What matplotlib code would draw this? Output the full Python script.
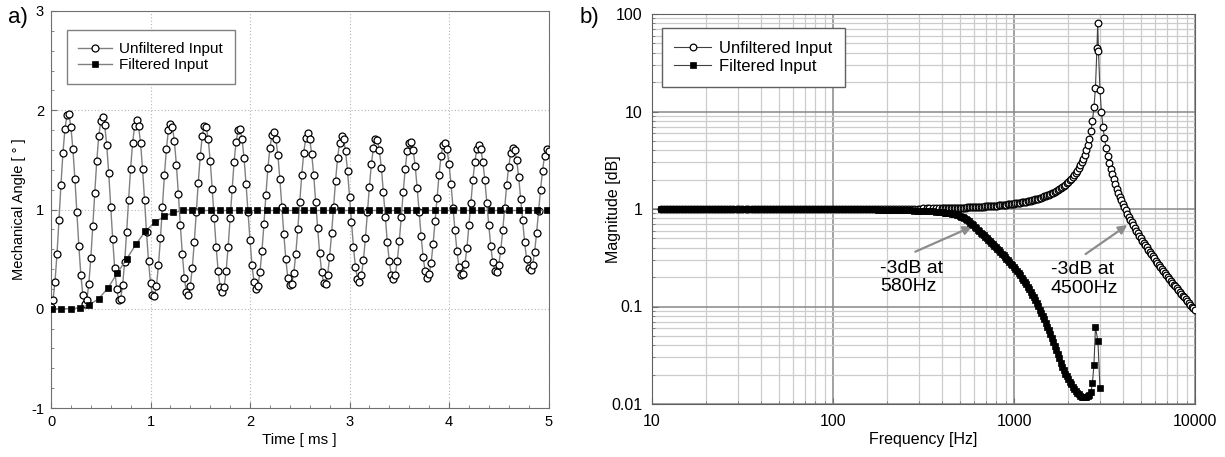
import matplotlib
matplotlib.use("Agg")
import matplotlib.pyplot as plt
from matplotlib.ticker import MultipleLocator, LogLocator, NullFormatter

plt.rcParams["font.family"] = ["Liberation Sans", "DejaVu Sans"]
plt.rcParams["axes.unicode_minus"] = False

# ---- panel a) step response, sampled every 0.02 ms ----
time_unfiltered = [
    0.00, 0.02, 0.04, 0.06, 0.08, 0.10, 0.12, 0.14, 0.16, 0.18,
    0.20, 0.22, 0.24, 0.26, 0.28, 0.30, 0.32, 0.34, 0.36, 0.38,
    0.40, 0.42, 0.44, 0.46, 0.48, 0.50, 0.52, 0.54, 0.56, 0.58,
    0.60, 0.62, 0.64, 0.66, 0.68, 0.70, 0.72, 0.74, 0.76, 0.78,
    0.80, 0.82, 0.84, 0.86, 0.88, 0.90, 0.92, 0.94, 0.96, 0.98,
    1.00, 1.02, 1.04, 1.06, 1.08, 1.10, 1.12, 1.14, 1.16, 1.18,
    1.20, 1.22, 1.24, 1.26, 1.28, 1.30, 1.32, 1.34, 1.36, 1.38,
    1.40, 1.42, 1.44, 1.46, 1.48, 1.50, 1.52, 1.54, 1.56, 1.58,
    1.60, 1.62, 1.64, 1.66, 1.68, 1.70, 1.72, 1.74, 1.76, 1.78,
    1.80, 1.82, 1.84, 1.86, 1.88, 1.90, 1.92, 1.94, 1.96, 1.98,
    2.00, 2.02, 2.04, 2.06, 2.08, 2.10, 2.12, 2.14, 2.16, 2.18,
    2.20, 2.22, 2.24, 2.26, 2.28, 2.30, 2.32, 2.34, 2.36, 2.38,
    2.40, 2.42, 2.44, 2.46, 2.48, 2.50, 2.52, 2.54, 2.56, 2.58,
    2.60, 2.62, 2.64, 2.66, 2.68, 2.70, 2.72, 2.74, 2.76, 2.78,
    2.80, 2.82, 2.84, 2.86, 2.88, 2.90, 2.92, 2.94, 2.96, 2.98,
    3.00, 3.02, 3.04, 3.06, 3.08, 3.10, 3.12, 3.14, 3.16, 3.18,
    3.20, 3.22, 3.24, 3.26, 3.28, 3.30, 3.32, 3.34, 3.36, 3.38,
    3.40, 3.42, 3.44, 3.46, 3.48, 3.50, 3.52, 3.54, 3.56, 3.58,
    3.60, 3.62, 3.64, 3.66, 3.68, 3.70, 3.72, 3.74, 3.76, 3.78,
    3.80, 3.82, 3.84, 3.86, 3.88, 3.90, 3.92, 3.94, 3.96, 3.98,
    4.00, 4.02, 4.04, 4.06, 4.08, 4.10, 4.12, 4.14, 4.16, 4.18,
    4.20, 4.22, 4.24, 4.26, 4.28, 4.30, 4.32, 4.34, 4.36, 4.38,
    4.40, 4.42, 4.44, 4.46, 4.48, 4.50, 4.52, 4.54, 4.56, 4.58,
    4.60, 4.62, 4.64, 4.66, 4.68, 4.70, 4.72, 4.74, 4.76, 4.78,
    4.80, 4.82, 4.84, 4.86, 4.88, 4.90, 4.92, 4.94, 4.96, 4.98,
    5.00,
]
angle_unfiltered = [
    0.02, 0.09, 0.27, 0.55, 0.89, 1.25, 1.57, 1.81, 1.95, 1.96,
    1.83, 1.61, 1.31, 0.97, 0.63, 0.34, 0.14, 0.05, 0.09, 0.25,
    0.51, 0.83, 1.17, 1.49, 1.74, 1.89, 1.93, 1.85, 1.65, 1.37,
    1.03, 0.70, 0.41, 0.20, 0.09, 0.10, 0.24, 0.47, 0.77, 1.10,
    1.41, 1.67, 1.84, 1.90, 1.84, 1.67, 1.41, 1.10, 0.77, 0.48,
    0.26, 0.14, 0.13, 0.23, 0.44, 0.71, 1.03, 1.35, 1.61, 1.80,
    1.86, 1.83, 1.69, 1.45, 1.16, 0.84, 0.55, 0.31, 0.17, 0.14,
    0.23, 0.41, 0.67, 0.97, 1.27, 1.54, 1.74, 1.84, 1.83, 1.71,
    1.49, 1.21, 0.91, 0.62, 0.38, 0.22, 0.17, 0.22, 0.38, 0.62,
    0.91, 1.21, 1.48, 1.68, 1.80, 1.81, 1.71, 1.52, 1.26, 0.97,
    0.69, 0.44, 0.27, 0.20, 0.23, 0.37, 0.58, 0.85, 1.15, 1.42,
    1.62, 1.75, 1.78, 1.71, 1.55, 1.31, 1.03, 0.75, 0.50, 0.31,
    0.24, 0.25, 0.36, 0.55, 0.80, 1.08, 1.35, 1.57, 1.72, 1.77,
    1.71, 1.56, 1.35, 1.08, 0.81, 0.56, 0.37, 0.26, 0.25, 0.34,
    0.52, 0.76, 1.03, 1.29, 1.52, 1.67, 1.74, 1.71, 1.59, 1.39,
    1.13, 0.87, 0.62, 0.42, 0.30, 0.27, 0.34, 0.49, 0.71, 0.97,
    1.23, 1.46, 1.62, 1.71, 1.70, 1.60, 1.42, 1.18, 0.92, 0.67,
    0.48, 0.34, 0.30, 0.34, 0.48, 0.68, 0.92, 1.18, 1.41, 1.59,
    1.67, 1.68, 1.60, 1.44, 1.22, 0.97, 0.73, 0.52, 0.38, 0.31,
    0.35, 0.46, 0.65, 0.88, 1.12, 1.35, 1.54, 1.65, 1.67, 1.61,
    1.46, 1.26, 1.02, 0.79, 0.58, 0.42, 0.34, 0.35, 0.45, 0.61,
    0.84, 1.07, 1.30, 1.48, 1.61, 1.65, 1.61, 1.48, 1.30, 1.07,
    0.84, 0.63, 0.47, 0.38, 0.37, 0.44, 0.59, 0.79, 1.02, 1.25,
    1.43, 1.57, 1.62, 1.60, 1.50, 1.33, 1.11, 0.89, 0.67, 0.50,
    0.41, 0.39, 0.44, 0.57, 0.76, 0.98, 1.20, 1.39, 1.54, 1.61,
    1.59,
]
time_filtered = [
    0.010, 0.104, 0.198, 0.291, 0.385, 0.479, 0.573, 0.667, 0.760, 0.854,
    0.948, 1.042, 1.136, 1.229, 1.323, 1.417, 1.511, 1.605, 1.698, 1.792,
    1.886, 1.980, 2.074, 2.167, 2.261, 2.355, 2.449, 2.543, 2.636, 2.730,
    2.824, 2.918, 3.012, 3.105, 3.199, 3.293, 3.387, 3.481, 3.574, 3.668,
    3.762, 3.856, 3.950, 4.043, 4.137, 4.231, 4.325, 4.419, 4.512, 4.606,
    4.700, 4.794, 4.888, 4.981,
]
angle_filtered = [
    0.00, 0.00, 0.00, 0.01, 0.04, 0.10, 0.21, 0.36, 0.50, 0.65,
    0.78, 0.87, 0.93, 0.97, 0.99, 1.00, 0.99, 0.99, 0.99, 0.99,
    0.99, 0.99, 0.99, 0.99, 0.99, 0.99, 0.99, 0.99, 0.99, 0.99,
    0.99, 0.99, 0.99, 0.99, 0.99, 0.99, 0.99, 0.99, 0.99, 0.99,
    0.99, 0.99, 0.99, 0.99, 0.99, 0.99, 0.99, 0.99, 0.99, 0.99,
    0.99, 0.99, 0.99, 0.99,
]

# ---- panel b) frequency response ----
freq_hz = [
    # 10 - 100 Hz
    11.2, 11.7, 12.1, 12.6, 13.1, 13.6, 14.1, 14.7, 15.3, 15.8,
    16.5, 17.1, 17.8, 18.5, 19.2, 20.0, 20.7, 21.5, 22.4, 23.3,
    24.2, 25.1, 26.1, 27.1, 28.2, 29.3, 30.4, 31.6, 32.9, 34.1,
    35.5, 36.9, 38.3, 39.8, 41.4, 43.0, 44.7, 46.4, 48.2, 50.1,
    52.1, 54.1, 56.2, 58.4, 60.7, 63.1, 65.6, 68.1, 70.8, 73.6,
    76.4, 79.4, 82.5, 85.8, 89.1, 92.6, 96.2,
    # 100 - 400 Hz
    100, 104, 108, 112, 117, 121, 126, 131, 136, 141,
    147, 153, 158, 165, 171, 178, 185, 192, 200, 207,
    215, 224, 233, 242, 251, 261, 271, 282, 293, 304,
    316, 329, 341, 355, 369, 383,
    # 400 - 1000 Hz
    398, 406, 414, 422, 430, 438, 447, 456, 464, 473,
    482, 492, 501, 511, 521, 531, 541, 552, 562, 573,
    584, 595, 607, 619, 631, 643, 656, 668, 681, 694,
    708, 722, 736, 750, 764, 779, 794, 809, 825, 841,
    858, 875, 891, 908, 926, 944, 962, 981,
    # 1000 - 2000 Hz
    1000, 1019, 1039, 1059, 1080, 1101, 1122, 1144, 1166, 1189,
    1212, 1235, 1259, 1283, 1308, 1334, 1359, 1385, 1413, 1440,
    1468, 1496, 1526, 1556, 1585, 1616, 1647, 1679, 1711, 1744,
    1778, 1813, 1848, 1884, 1920, 1957,
    # 2000 - 10000 Hz
    1995, 2034, 2073, 2113, 2154, 2196, 2239, 2282, 2326, 2371,
    2417, 2464, 2512, 2560, 2610, 2661, 2712, 2765, 2818, 2873,
    2900, 2929, 2985, 3043, 3102, 3162, 3223, 3286, 3350, 3415,
    3481, 3548, 3617, 3687, 3758, 3831, 3905, 3981, 4058, 4137,
    4217, 4299, 4382, 4467, 4553, 4642, 4732, 4823, 4917, 5012,
    5109, 5208, 5309, 5412, 5517, 5623, 5732, 5843, 5956, 6072,
    6190, 6310, 6432, 6557, 6684, 6813, 6945, 7080, 7217, 7356,
    7499, 7644, 7792, 7943, 8097, 8254, 8414, 8577, 8743, 8913,
    9085, 9261, 9441, 9624, 9810, 10000,
]
mag_unfiltered = [
    1.000, 1.000, 1.000, 1.000, 1.000, 1.000, 1.000, 1.000, 1.000, 1.000,
    1.000, 1.000, 1.000, 1.000, 1.000, 1.000, 1.000, 1.000, 1.000, 1.000,
    1.000, 1.000, 1.000, 1.000, 1.000, 1.000, 1.000, 1.000, 1.000, 1.000,
    1.000, 1.000, 1.000, 1.000, 1.000, 1.000, 1.000, 1.000, 1.000, 1.000,
    1.000, 1.000, 1.000, 1.000, 1.000, 1.000, 1.000, 1.000, 1.000, 1.000,
    1.000, 1.000, 1.000, 1.000, 1.000, 1.000, 1.000,
    1.001, 1.001, 1.001, 1.001, 1.002, 1.002, 1.002, 1.002, 1.002, 1.002,
    1.003, 1.003, 1.003, 1.003, 1.003, 1.004, 1.004, 1.004, 1.005, 1.005,
    1.006, 1.006, 1.006, 1.007, 1.008, 1.008, 1.009, 1.009, 1.010, 1.011,
    1.012, 1.013, 1.014, 1.015, 1.016, 1.018,
    1.019, 1.020, 1.021, 1.022, 1.022, 1.023, 1.024, 1.025, 1.026, 1.027,
    1.028, 1.030, 1.031, 1.032, 1.033, 1.035, 1.036, 1.038, 1.039, 1.041,
    1.042, 1.044, 1.046, 1.048, 1.050, 1.052, 1.054, 1.056, 1.058, 1.061,
    1.063, 1.066, 1.069, 1.072, 1.075, 1.078, 1.081, 1.084, 1.088, 1.092,
    1.096, 1.100, 1.104, 1.109, 1.114, 1.119, 1.124, 1.129,
    1.135, 1.141, 1.147, 1.154, 1.161, 1.168, 1.176, 1.184, 1.193, 1.202,
    1.212, 1.222, 1.232, 1.243, 1.255, 1.268, 1.281, 1.296, 1.311, 1.327,
    1.345, 1.363, 1.383, 1.404, 1.426, 1.450, 1.476, 1.504, 1.534, 1.567,
    1.602, 1.642, 1.684, 1.730, 1.780, 1.836,
    1.899, 1.968, 2.045, 2.132, 2.231, 2.344, 2.476, 2.626, 2.804, 3.016,
    3.275, 3.596, 4.005, 4.530, 5.263, 6.328, 7.971, 11.00, 17.52, 44.87,
    80.00, 42.13, 16.43, 9.810, 6.910, 5.296, 4.252, 3.522, 2.990, 2.586,
    2.268, 2.013, 1.800, 1.622, 1.472, 1.342, 1.230, 1.131, 1.044, 0.966,
    0.897, 0.835, 0.779, 0.7285, 0.683, 0.640, 0.6015, 0.566, 0.533, 0.503,
    0.475, 0.449, 0.425, 0.403, 0.382, 0.362, 0.344, 0.327, 0.311, 0.2955,
    0.281, 0.268, 0.255, 0.243, 0.232, 0.221, 0.211, 0.2016, 0.193, 0.184,
    0.176, 0.168, 0.161, 0.154, 0.147, 0.141, 0.135, 0.129, 0.124, 0.118,
    0.1135, 0.109, 0.104, 0.0999, 0.0958, 0.0918,
]
# filtered curve shares the first frequencies of freq_hz, then has its own tail
mag_filtered = [
    1.000, 1.000, 1.000, 1.000, 1.000, 1.000, 1.000, 1.000, 1.000, 1.000,
    1.000, 1.000, 1.000, 1.000, 1.000, 1.000, 1.000, 1.000, 1.000, 1.000,
    1.000, 1.000, 1.000, 1.000, 1.000, 1.000, 1.000, 1.000, 1.000, 1.000,
    1.000, 1.000, 1.000, 1.000, 1.000, 1.000, 1.000, 1.000, 1.000, 1.000,
    1.000, 1.000, 1.000, 1.000, 1.000, 1.000, 1.000, 1.000, 1.000, 1.000,
    1.000, 1.000, 1.000, 1.000, 1.000, 1.000, 1.000,
    0.997, 0.996, 0.996, 0.996, 0.995, 0.995, 0.994, 0.994, 0.993, 0.993,
    0.992, 0.991, 0.991, 0.990, 0.989, 0.988, 0.988, 0.987, 0.986, 0.984,
    0.982, 0.980, 0.978, 0.976, 0.974, 0.971, 0.968, 0.965, 0.962, 0.958,
    0.955, 0.951, 0.947, 0.943, 0.938, 0.933,
    0.927, 0.924, 0.920, 0.916, 0.912, 0.907, 0.902, 0.895, 0.888, 0.879,
    0.870, 0.859, 0.848, 0.834, 0.820, 0.803, 0.786, 0.767, 0.748, 0.727,
    0.706, 0.683, 0.660, 0.637, 0.614, 0.593, 0.573, 0.554, 0.536, 0.518,
    0.500, 0.484, 0.468, 0.453, 0.438, 0.422, 0.407, 0.392, 0.377, 0.362,
    0.348, 0.335, 0.322, 0.309, 0.297, 0.286, 0.275, 0.264,
    0.254, 0.242, 0.230, 0.219, 0.208, 0.1975, 0.1875, 0.1776, 0.1683, 0.1589,
    0.1500, 0.1409, 0.1324, 0.1239, 0.1159, 0.1079, 0.1005, 0.0931, 0.0863, 0.0797,
    0.0736, 0.0677, 0.0622, 0.0570, 0.0522, 0.0475, 0.0432, 0.0393, 0.0357, 0.0325,
    0.0295, 0.0266, 0.0240, 0.0222, 0.0205, 0.0192,
    0.0180, 0.0170, 0.0160, 0.0151, 0.0143, 0.0136, 0.0131, 0.0126, 0.0122, 0.0119,
    0.0117, 0.0117, 0.0118, 0.0121, 0.0125, 0.0132,
]
freq_filtered_tail = [2712, 2765, 2818, 2908, 2985]
mag_filtered_tail = [0.0165, 0.0251, 0.061, 0.0445, 0.0147]

freq_filtered = freq_hz[:len(mag_filtered)] + freq_filtered_tail
mag_filtered_all = mag_filtered + mag_filtered_tail

fig = plt.figure(figsize=(12.25, 4.57), dpi=100)
ax1 = fig.add_axes([51 / 1225, 49 / 457, 497.5 / 1225, 397 / 457])
ax2 = fig.add_axes([652 / 1225, 53 / 457, 543 / 1225, 390 / 457])

spine_col = "#707070"
line_grey = "#808080"

# ---------------- panel a ----------------
ax1.plot(time_unfiltered, angle_unfiltered, color=line_grey, lw=1.0,
         marker="o", ms=5.0, mfc="white", mec="black", mew=0.9,
         label="Unfiltered Input", zorder=3)
ax1.plot(time_filtered, angle_filtered, color=line_grey, lw=1.0,
         marker="s", ms=4.6, mfc="black", mec="black", mew=0.5,
         label="Filtered Input", zorder=4)
ax1.set_xlim(0, 5)
ax1.set_ylim(-1, 3)
ax1.xaxis.set_major_locator(MultipleLocator(1))
ax1.xaxis.set_minor_locator(MultipleLocator(0.2))
ax1.yaxis.set_major_locator(MultipleLocator(1))
ax1.yaxis.set_minor_locator(MultipleLocator(0.2))
ax1.grid(which="major", linestyle=(0, (1, 2)), color="#b5b5b5", lw=0.8)
ax1.set_axisbelow(True)
ax1.tick_params(which="both", direction="in", colors=spine_col,
                labelcolor="black", labelsize=10.5)
ax1.tick_params(which="major", length=4, pad=5)
ax1.tick_params(which="minor", length=2.5)
for s in ax1.spines.values():
    s.set_color(spine_col)
ax1.set_xlabel("Time [ ms ]", fontsize=11)
ax1.set_ylabel("Mechanical Angle [ \u00b0 ]", fontsize=10.5)
ax1.xaxis.set_label_coords(0.5, -0.063)
ax1.yaxis.set_label_coords(-0.05, 0.5)
leg1 = ax1.legend(loc="upper left", bbox_to_anchor=(0.0316, 0.951),
                  borderaxespad=0, fontsize=11, frameon=True,
                  fancybox=False, edgecolor="#808080", framealpha=1,
                  handlelength=2.2, handletextpad=0.5, labelspacing=0.15,
                  borderpad=0.75)
leg1.get_frame().set_linewidth(1.0)

# ---------------- panel b ----------------
ax2.plot(freq_hz, mag_unfiltered, color="#404040", lw=0.8,
         marker="o", ms=4.8, mfc="white", mec="black", mew=0.9,
         label="Unfiltered Input", zorder=3)
ax2.plot(freq_filtered, mag_filtered_all, color="#404040", lw=0.8,
         marker="s", ms=5.0, mfc="black", mec="black", mew=0.5,
         label="Filtered Input", zorder=4)
ax2.set_xscale("log")
ax2.set_yscale("log")
ax2.set_xlim(10, 10000)
ax2.set_ylim(0.01, 100)
ax2.set_xticks([10, 100, 1000, 10000])
ax2.set_xticklabels(["10", "100", "1000", "10000"])
ax2.set_yticks([0.01, 0.1, 1, 10, 100])
ax2.set_yticklabels(["0.01", "0.1", "1", "10", "100"])
ax2.xaxis.set_minor_locator(LogLocator(base=10, subs=range(2, 10)))
ax2.yaxis.set_minor_locator(LogLocator(base=10, subs=range(2, 10)))
ax2.xaxis.set_minor_formatter(NullFormatter())
ax2.yaxis.set_minor_formatter(NullFormatter())
ax2.grid(which="major", color="#888888", lw=1.1)
ax2.grid(which="minor", color="#cccccc", lw=0.9)
ax2.set_axisbelow(True)
ax2.tick_params(which="both", direction="in", colors=spine_col,
                labelcolor="black", labelsize=11.5)
ax2.tick_params(which="major", length=4, pad=7)
ax2.tick_params(which="minor", length=2.5)
for s in ax2.spines.values():
    s.set_color("#606060")
ax2.set_xlabel("Frequency [Hz]", fontsize=11.5)
ax2.set_ylabel("Magnitude [dB]", fontsize=11.5)
ax2.xaxis.set_label_coords(0.5, -0.072)
ax2.yaxis.set_label_coords(-0.057, 0.5)
leg2 = ax2.legend(loc="upper left", bbox_to_anchor=(0.018, 0.963),
                  borderaxespad=0, fontsize=12, frameon=True,
                  fancybox=False, edgecolor="#606060", framealpha=1,
                  handlelength=2.2, handletextpad=0.5, labelspacing=0.2,
                  borderpad=0.75)
leg2.get_frame().set_linewidth(1.0)

arrow_kw = dict(arrowstyle="-|>", color="#8c8c8c", lw=1.6,
                mutation_scale=13, shrinkA=0, shrinkB=0)
ax2.annotate("", xy=(587, 0.66), xytext=(285, 0.365), arrowprops=arrow_kw)
ax2.annotate("", xy=(4227, 0.685), xytext=(2487, 0.345), arrowprops=arrow_kw)
ax2.text(182, 0.30, "-3dB at\n580Hz", fontsize=14, ha="left", va="top",
         linespacing=1.1)
ax2.text(1592, 0.29, "-3dB at\n4500Hz", fontsize=14, ha="left", va="top",
         linespacing=1.1)

fig.text(8 / 1225, 1 - 18 / 457, "a)", fontsize=16, ha="left", va="center")
fig.text(580 / 1225, 1 - 18 / 457, "b)", fontsize=16, ha="left", va="center")

fig.savefig("out.png", dpi=100)
plt.close(fig)
